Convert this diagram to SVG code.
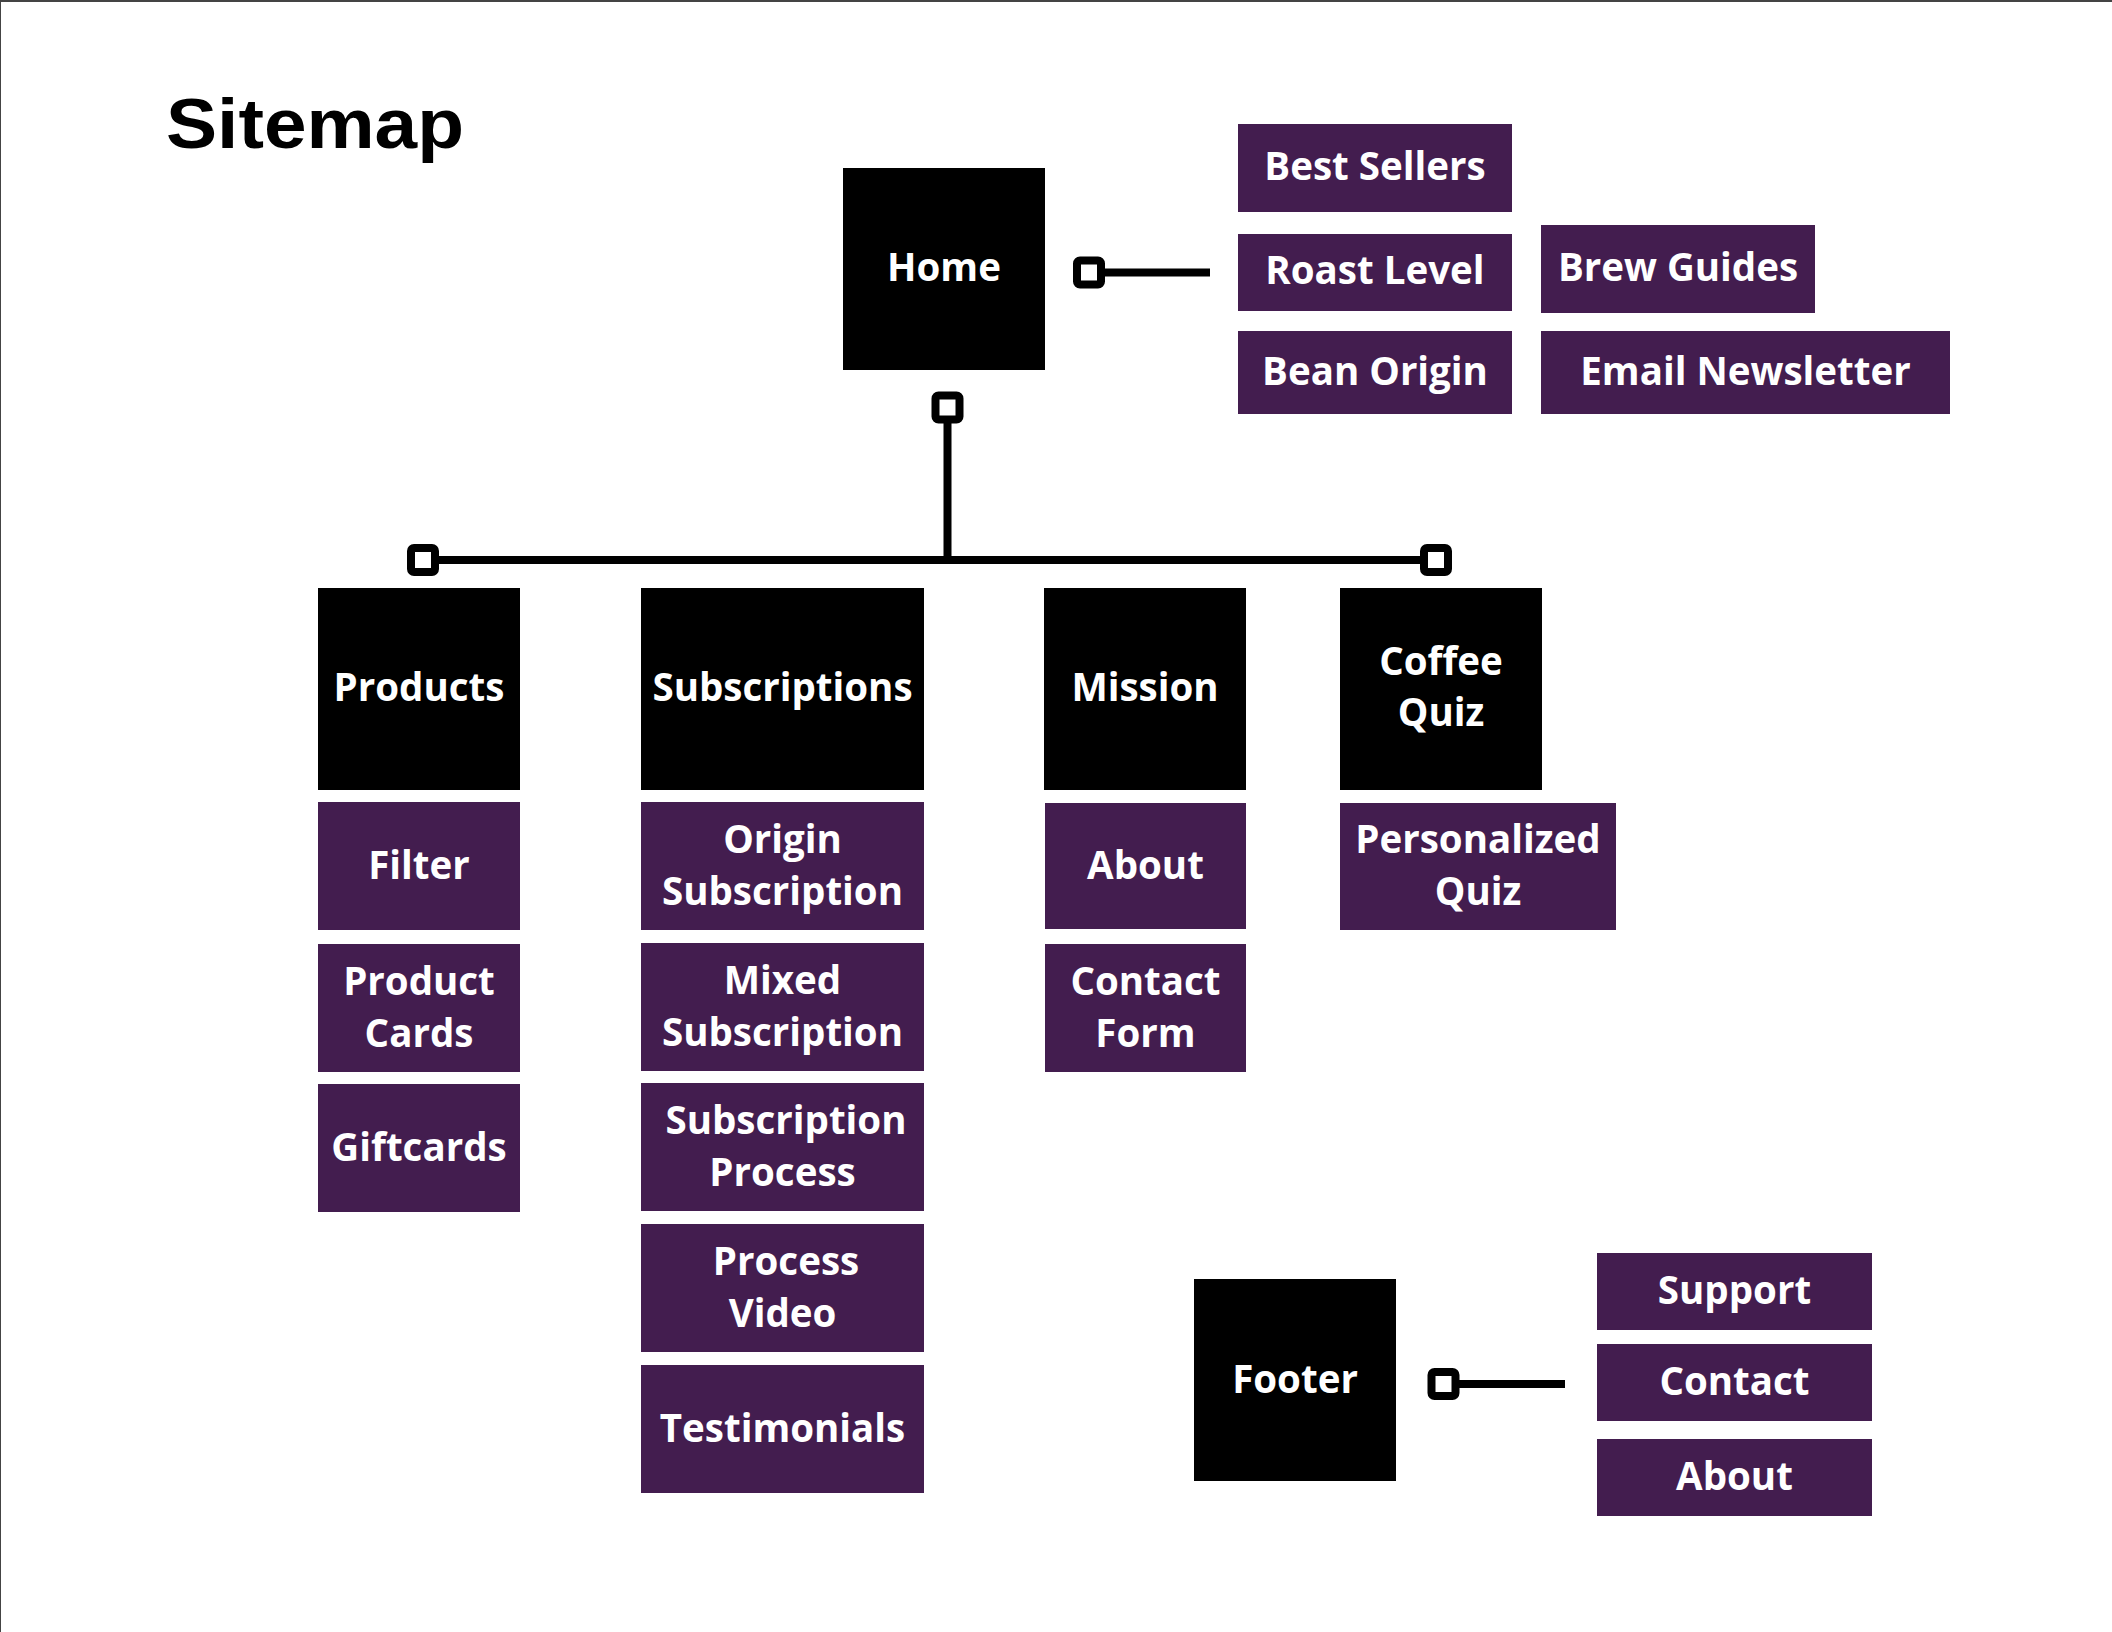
<svg xmlns="http://www.w3.org/2000/svg" width="2112" height="1632" viewBox="0 0 2112 1632">
<style>
.main{fill:#000000}
.sub{fill:#431d4f}
.lbl{font-family:"Open Sans","Liberation Sans",sans-serif;font-weight:700;font-size:38.5px;fill:#ffffff;text-anchor:middle}
.title{font-family:"Liberation Sans","Noto Sans",sans-serif;font-weight:700;font-size:70px;fill:#000000}
.wire{stroke:#000000;stroke-width:8;fill:none}
.knob{stroke:#000000;stroke-width:8;fill:#ffffff}
</style>
<rect x="0" y="0" width="2112" height="1632" fill="#ffffff"/>
<rect x="0" y="0" width="2112" height="2" fill="#444444"/>
<rect x="0" y="0" width="1" height="1632" fill="#444444"/>
<text class="title" x="166" y="148" textLength="298" lengthAdjust="spacingAndGlyphs">Sitemap</text>

<g id="connectors">
<line class="wire" x1="1105" y1="272.5" x2="1210" y2="272.5"/>
<rect class="knob" x="1077" y="260.5" width="24" height="24" rx="3"/>
<line class="wire" x1="947.5" y1="423" x2="947.5" y2="560"/>
<line class="wire" x1="439" y1="560" x2="1420" y2="560"/>
<rect class="knob" x="935.5" y="395.5" width="24" height="24" rx="3"/>
<rect class="knob" x="411" y="548" width="24" height="24" rx="3"/>
<rect class="knob" x="1424" y="548" width="24" height="24" rx="3"/>
<line class="wire" x1="1459" y1="1384" x2="1565" y2="1384"/>
<rect class="knob" x="1431.5" y="1372" width="24" height="24" rx="3"/>
</g>

<g id="home"><rect class="main" x="843" y="168" width="202" height="202"/><text class="lbl" x="944" y="281">Home</text></g>
<g id="best-sellers"><rect class="sub" x="1238" y="124" width="274" height="88"/><text class="lbl" x="1375" y="180">Best Sellers</text></g>
<g id="roast-level"><rect class="sub" x="1238" y="234" width="274" height="77"/><text class="lbl" x="1375" y="284">Roast Level</text></g>
<g id="brew-guides"><rect class="sub" x="1541" y="225" width="274" height="88"/><text class="lbl" x="1678" y="281">Brew Guides</text></g>
<g id="bean-origin"><rect class="sub" x="1238" y="331" width="274" height="83"/><text class="lbl" x="1375" y="385">Bean Origin</text></g>
<g id="email-newsletter"><rect class="sub" x="1541" y="331" width="409" height="83"/><text class="lbl" x="1745.5" y="385">Email Newsletter</text></g>

<g id="products"><rect class="main" x="318" y="588" width="202" height="202"/><text class="lbl" x="419" y="701">Products</text></g>
<g id="subscriptions"><rect class="main" x="641" y="588" width="283" height="202"/><text class="lbl" x="782.5" y="701">Subscriptions</text></g>
<g id="mission"><rect class="main" x="1044" y="588" width="202" height="202"/><text class="lbl" x="1145" y="701">Mission</text></g>
<g id="coffee-quiz"><rect class="main" x="1340" y="588" width="202" height="202"/><text class="lbl" x="1441" y="675">Coffee</text><text class="lbl" x="1441" y="726">Quiz</text></g>

<g id="filter"><rect class="sub" x="318" y="802" width="202" height="128"/><text class="lbl" x="419" y="879">Filter</text></g>
<g id="product-cards"><rect class="sub" x="318" y="944" width="202" height="128"/><text class="lbl" x="419" y="995">Product</text><text class="lbl" x="419" y="1047">Cards</text></g>
<g id="giftcards"><rect class="sub" x="318" y="1084" width="202" height="128"/><text class="lbl" x="419" y="1161">Giftcards</text></g>

<g id="origin-subscription"><rect class="sub" x="641" y="802" width="283" height="128"/><text class="lbl" x="782.5" y="853">Origin</text><text class="lbl" x="782.5" y="905">Subscription</text></g>
<g id="mixed-subscription"><rect class="sub" x="641" y="943" width="283" height="128"/><text class="lbl" x="782.5" y="994">Mixed</text><text class="lbl" x="782.5" y="1046">Subscription</text></g>
<g id="subscription-process"><rect class="sub" x="641" y="1083" width="283" height="128"/><text class="lbl" x="786" y="1134">Subscription</text><text class="lbl" x="782.5" y="1186">Process</text></g>
<g id="process-video"><rect class="sub" x="641" y="1224" width="283" height="128"/><text class="lbl" x="786" y="1275">Process</text><text class="lbl" x="782.5" y="1327">Video</text></g>
<g id="testimonials"><rect class="sub" x="641" y="1365" width="283" height="128"/><text class="lbl" x="782.5" y="1442">Testimonials</text></g>

<g id="about-mission"><rect class="sub" x="1045" y="803" width="201" height="126"/><text class="lbl" x="1145.5" y="879">About</text></g>
<g id="contact-form"><rect class="sub" x="1045" y="944" width="201" height="128"/><text class="lbl" x="1145.5" y="995">Contact</text><text class="lbl" x="1145.5" y="1047">Form</text></g>
<g id="personalized-quiz"><rect class="sub" x="1340" y="803" width="276" height="127"/><text class="lbl" x="1478" y="853">Personalized</text><text class="lbl" x="1478" y="905">Quiz</text></g>

<g id="footer"><rect class="main" x="1194" y="1279" width="202" height="202"/><text class="lbl" x="1295" y="1393">Footer</text></g>
<g id="support"><rect class="sub" x="1597" y="1253" width="275" height="77"/><text class="lbl" x="1734.5" y="1304">Support</text></g>
<g id="contact"><rect class="sub" x="1597" y="1344" width="275" height="77"/><text class="lbl" x="1734.5" y="1395">Contact</text></g>
<g id="about-footer"><rect class="sub" x="1597" y="1439" width="275" height="77"/><text class="lbl" x="1734.5" y="1490">About</text></g>
</svg>
